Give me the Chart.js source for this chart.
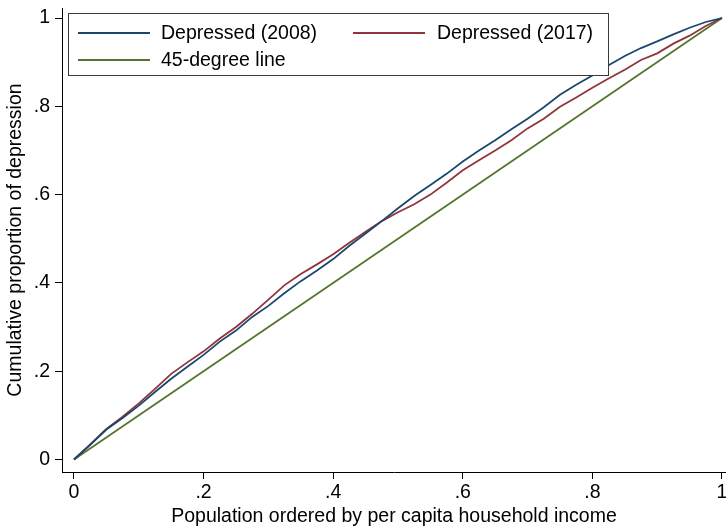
<!DOCTYPE html>
<html>
<head>
<meta charset="utf-8">
<script src="https://cdn.jsdelivr.net/npm/chart.js@4.4.1/dist/chart.umd.min.js"></script>
<style>
  html, body { margin: 0; padding: 0; background: #fff; }
  #wrap { width: 726px; height: 528px; }
</style>
</head>
<body>
<div id="wrap"><canvas id="c" width="726" height="528"></canvas></div>
<script>
// Cumulative share of population, ranked by per capita household income
const popShare = [0, 0.025, 0.05, 0.075, 0.10, 0.125, 0.15, 0.175, 0.20, 0.225,
  0.25, 0.275, 0.30, 0.325, 0.35, 0.375, 0.40, 0.425, 0.45, 0.475,
  0.50, 0.525, 0.55, 0.575, 0.60, 0.625, 0.65, 0.675, 0.70, 0.725,
  0.75, 0.775, 0.80, 0.825, 0.85, 0.875, 0.90, 0.925, 0.95, 0.975, 1.0];

// Cumulative proportion of depression, 2008 wave
const depressed2008 = [0, 0.033, 0.068, 0.094, 0.122, 0.153, 0.183, 0.210, 0.237, 0.267,
  0.292, 0.323, 0.348, 0.377, 0.404, 0.428, 0.454, 0.484, 0.512, 0.540,
  0.569, 0.597, 0.622, 0.647, 0.675, 0.700, 0.723, 0.748, 0.772, 0.798,
  0.826, 0.849, 0.870, 0.893, 0.914, 0.932, 0.947, 0.963, 0.978, 0.991, 1.0];

// Cumulative proportion of depression, 2017 wave
const depressed2017 = [0, 0.034, 0.069, 0.097, 0.127, 0.160, 0.194, 0.220, 0.245, 0.274,
  0.300, 0.330, 0.362, 0.395, 0.420, 0.442, 0.465, 0.491, 0.516, 0.540,
  0.560, 0.578, 0.600, 0.627, 0.655, 0.678, 0.700, 0.723, 0.750, 0.772,
  0.799, 0.820, 0.842, 0.863, 0.883, 0.905, 0.920, 0.942, 0.960, 0.982, 1.0];

// Line of equality endpoints
const equalityLine = [0, 1];

// Axis tick positions
const tickValues = [0, 0.2, 0.4, 0.6, 0.8, 1];

const seriesLabels = ['Depressed (2008)', 'Depressed (2017)', '45-degree line'];
const seriesColors = ['#1a476f', '#90353b', '#55752f'];

const FONT = "'Liberation Sans', Arial, sans-serif";
const FS = 19.5;

function pairs(xs, ys) { return xs.map((x, i) => ({ x: x, y: ys[i] })); }

function fmtTick(v) {
  const r = Math.round(v * 10) / 10;
  if (r === 0) return '0';
  if (r === 1) return '1';
  return String(r).replace(/^0\./, '.');
}

// Boxed legend drawn inside the plot region
const boxLegend = {
  id: 'boxLegend',
  afterDatasetsDraw(chart) {
    const ctx = chart.ctx;
    const box = { l: 68.5, t: 13.5, r: 608.5, b: 75.5 };
    ctx.save();
    ctx.fillStyle = '#ffffff';
    ctx.fillRect(box.l, box.t, box.r - box.l, box.b - box.t);
    ctx.strokeStyle = '#3a3a3a';
    ctx.lineWidth = 1;
    ctx.strokeRect(box.l, box.t, box.r - box.l, box.b - box.t);
    const items = [
      { i: 0, x0: 78, x1: 150, tx: 161, y: 33 },
      { i: 1, x0: 353, x1: 425, tx: 437, y: 33 },
      { i: 2, x0: 78, x1: 150, tx: 161, y: 60 }
    ];
    ctx.font = FS + 'px ' + FONT;
    ctx.textBaseline = 'middle';
    ctx.textAlign = 'left';
    items.forEach(it => {
      ctx.strokeStyle = seriesColors[it.i];
      ctx.lineWidth = 1.8;
      ctx.beginPath();
      ctx.moveTo(it.x0, it.y);
      ctx.lineTo(it.x1, it.y);
      ctx.stroke();
      ctx.fillStyle = '#000';
      ctx.fillText(chart.data.datasets[it.i].label, it.tx, it.y + 1);
    });
    ctx.restore();
  }
};

const lineStyle = { borderWidth: 1.8, pointRadius: 0, tension: 0, fill: false };

new Chart(document.getElementById('c'), {
  type: 'line',
  data: {
    datasets: [
      Object.assign({ label: seriesLabels[0], data: pairs(popShare, depressed2008), borderColor: seriesColors[0] }, lineStyle),
      Object.assign({ label: seriesLabels[1], data: pairs(popShare, depressed2017), borderColor: seriesColors[1] }, lineStyle),
      Object.assign({ label: seriesLabels[2], data: pairs(equalityLine, equalityLine), borderColor: seriesColors[2] }, lineStyle)
    ]
  },
  options: {
    responsive: false,
    animation: false,
    layout: { padding: { top: 8, right: 0, bottom: 0, left: 0 } },
    plugins: { legend: { display: false }, tooltip: { enabled: false } },
    scales: {
      x: {
        type: 'linear',
        min: -0.0185,
        max: 1.0062,
        afterFit(s) { s.height = 56; s.paddingLeft = 0; s.paddingRight = 0; },
        afterBuildTicks(s) { s.ticks = tickValues.map(v => ({ value: v })); },
        grid: { drawOnChartArea: false, drawTicks: true, tickLength: 7, color: '#000', lineWidth: 1 },
        border: { display: true, color: '#000', width: 1 },
        ticks: { callback: fmtTick, color: '#000', padding: 2, maxRotation: 0, font: { family: FONT, size: FS } },
        title: { display: true, text: 'Population ordered by per capita household income', color: '#000',
                 padding: { top: 0, bottom: 0 }, font: { family: FONT, size: FS } }
      },
      y: {
        type: 'linear',
        min: -0.0283,
        max: 1.0227,
        afterFit(s) { s.width = 62; s.paddingTop = 0; s.paddingBottom = 0; },
        afterBuildTicks(s) { s.ticks = tickValues.map(v => ({ value: v })); },
        grid: { drawOnChartArea: false, drawTicks: true, tickLength: 7, color: '#000', lineWidth: 1 },
        border: { display: true, color: '#000', width: 1 },
        ticks: { callback: fmtTick, color: '#000', padding: 5, font: { family: FONT, size: FS } },
        title: { display: true, text: 'Cumulative proportion of depression', color: '#000',
                 padding: { top: 4, bottom: 0 }, font: { family: FONT, size: FS } }
      }
    }
  },
  plugins: [boxLegend]
});
</script>
</body>
</html>
